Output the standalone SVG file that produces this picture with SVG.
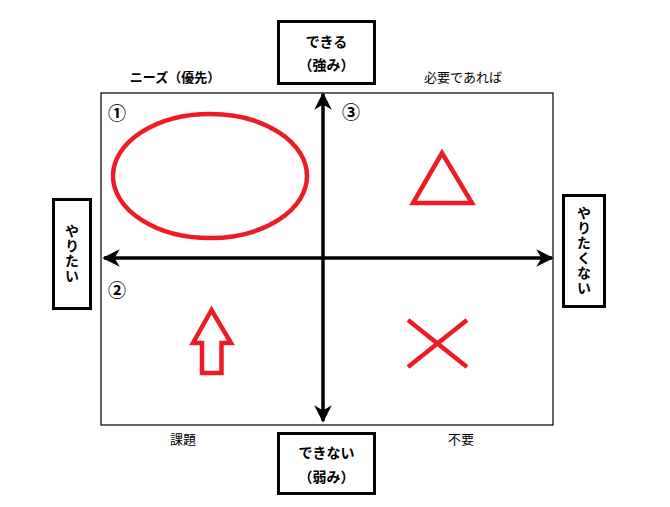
<svg xmlns="http://www.w3.org/2000/svg" width="670" height="507" viewBox="0 0 670 507">
<style>
.box{fill:#fff;stroke:#000;stroke-width:3}
.bt{font-family:"Noto Sans CJK JP","Noto Sans CJK SC",sans-serif;font-size:14px;font-weight:bold;fill:#000;text-anchor:middle}
.vt{font-family:"Noto Sans CJK JP","Noto Sans CJK SC",sans-serif;font-size:14px;font-weight:bold;fill:#000;writing-mode:vertical-rl;text-anchor:middle;letter-spacing:1px}
.lb{font-family:"Noto Sans CJK JP","Noto Sans CJK SC",sans-serif;font-size:13px;fill:#000;text-anchor:middle}
.num{font-family:"Noto Sans CJK JP","Noto Sans CJK SC",sans-serif;font-size:18px;font-weight:bold;fill:#000;text-anchor:middle}
.red{fill:none;stroke:#ED1C24;stroke-width:4.5}
.ax{stroke:#000;stroke-width:3.5;fill:none}
</style>
<defs>
<marker id="ah" viewBox="0 0 10 10" refX="9" refY="5" markerWidth="5" markerHeight="5" orient="auto-start-reverse" markerUnits="strokeWidth">
<path d="M0,0 L10,5 L0,10 L3,5 Z" fill="#000"/>
</marker>
</defs>
<rect width="670" height="507" fill="#fff"/>
<g id="frame">
<rect x="101" y="93" width="452" height="332" fill="#fff" stroke="#000" stroke-width="1.2"/>
</g>
<g id="connectors">
<line class="ax" x1="323" y1="421" x2="323" y2="94" marker-end="url(#ah)" marker-start="url(#ah)"/>
<line class="ax" x1="104" y1="258" x2="552" y2="258" marker-end="url(#ah)" marker-start="url(#ah)"/>
</g>
<g id="node-top">
<rect class="box" x="278.5" y="21.5" width="96" height="62"/>
<text class="bt" x="326.5" y="47">できる</text>
<text class="bt" x="326.5" y="70">（強み）</text>
</g>
<g id="node-bottom">
<rect class="box" x="278.5" y="433.5" width="96" height="60"/>
<text class="bt" x="326.5" y="458">できない</text>
<text class="bt" x="326.5" y="482">（弱み）</text>
</g>
<g id="node-left">
<rect class="box" x="53.5" y="199.5" width="37" height="109"/>
<text class="vt" x="72" y="254">やりたい</text>
</g>
<g id="node-right">
<rect class="box" x="563.5" y="195.5" width="41" height="111"/>
<text class="vt" x="584" y="251">やりたくない</text>
</g>
<g id="labels">
<text class="lb" x="175" y="82" font-weight="bold">ニーズ（優先）</text>
<text class="lb" x="463" y="82">必要であれば</text>
<text class="lb" x="183" y="444">課題</text>
<text class="lb" x="461" y="444">不要</text>
<text class="num" x="117" y="120">①</text>
<text class="num" x="117" y="297">②</text>
<text class="num" x="351" y="119">③</text>
</g>
<g id="q1-ellipse">
<ellipse class="red" cx="210" cy="176" rx="97" ry="62"/>
</g>
<g id="q3-triangle">
<polygon class="red" points="442,153 413,203 472,203" stroke-linejoin="miter"/>
</g>
<g id="q2-arrow">
<polygon class="red" points="211.5,310 193,343 202,343 202,373 221.5,373 221.5,343 231,343"/>
</g>
<g id="q4-cross">
<line class="red" x1="408" y1="320" x2="467" y2="367"/>
<line class="red" x1="467" y1="320" x2="408" y2="367"/>
</g>
</svg>
